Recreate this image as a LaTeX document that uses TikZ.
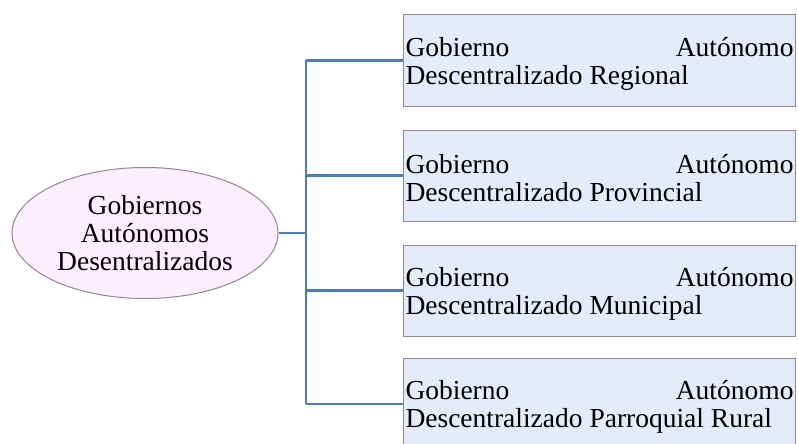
\documentclass[tikz,border=0pt]{standalone}
\usepackage{fontspec}
\setmainfont{Liberation Serif}
\usetikzlibrary{shapes.geometric}

\definecolor{cajafondo}{RGB}{228,236,251}
\definecolor{cajaborde}{RGB}{140,140,140}
\definecolor{elipfondo}{RGB}{253,238,253}
\definecolor{elipborde}{RGB}{150,130,150}
\definecolor{enlaceazul}{RGB}{74,126,187}

\begin{document}
\begin{tikzpicture}[x=1pt, y=-1pt]
            \tikzstyle{gad}=[ellipse, draw=elipborde, fill=elipfondo,
            line width=1pt, inner sep=0pt, minimum width=266pt,
            minimum height=131pt, align=center,
            font=\fontsize{27.5}{28}\selectfont]
            \tikzstyle{caja}=[rectangle, draw=cajaborde, fill=cajafondo,
            line width=1pt, inner xsep=1pt, inner ysep=0pt,
            text width=388pt, minimum width=392pt, minimum height=91pt,
            align=left, anchor=west,
            font=\fontsize{27.5}{28}\selectfont,
            execute at begin node={\spaceskip=0.25em\relax}]
            \tikzstyle{enlace}=[draw=enlaceazul, line width=2.8pt]
            \useasboundingbox (0,0) rectangle (798,444);

            \node[gad] (raiz) at (145,233) {Gobiernos\\Autónomos\\Desentralizados};
            \foreach \y/\n/\t in {60.5/reg/Regional, 175.5/prov/Provincial,
                290.5/mun/Municipal, 404/parr/Parroquial Rural}
            \node[caja] (\n) at (403,\y)
                {\rule{0pt}{25pt}Gobierno \hfill Autónomo\\Descentralizado \t};

            \coordinate (bus) at (306,0);
            \path[enlace] (raiz.east) -- (raiz.east -| bus);
            \path[enlace] (reg.west -| bus) -- (parr.west -| bus);
            \foreach \n in {reg, prov, mun, parr}
            \path[enlace] (\n.west -| bus) -- (\n.west);
        \end{tikzpicture}
\end{document}
